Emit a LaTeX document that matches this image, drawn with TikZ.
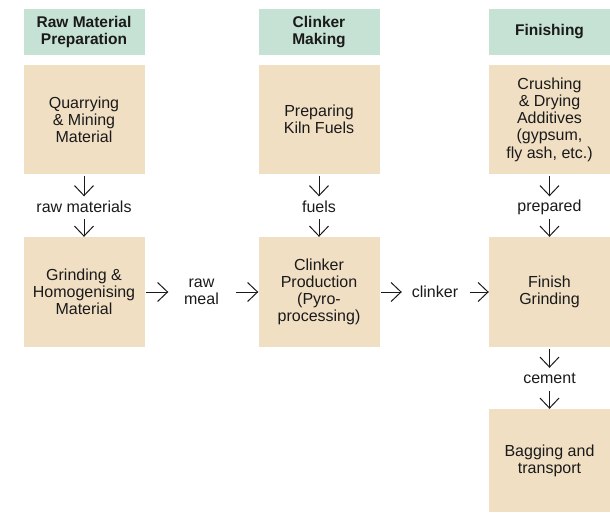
\documentclass[tikz,border=0pt]{standalone}
\usepackage{fontspec}
\setmainfont{Liberation Sans}
\usepackage{xcolor}
\definecolor{hdrGreen}{HTML}{C6E2D4}
\definecolor{boxSand}{HTML}{F1DFC4}
\definecolor{inkDark}{HTML}{1A1A1A}
\usepackage{tikz}
\usetikzlibrary{arrows.meta}
\tikzset{
    hdr/.style={fill=hdrGreen, text=inkDark, minimum width=121pt, minimum height=46pt, inner sep=0pt, align=center, font=\fontsize{15.5}{17.5}\selectfont\bfseries},
    stage/.style={fill=boxSand, text=inkDark, minimum width=121pt, inner sep=0pt, align=center, font=\fontsize{16}{17.2}\selectfont},
    flowlbl/.style={text=inkDark, inner sep=0pt, align=center, minimum width=66pt, minimum height=21pt, font=\fontsize{16}{17.2}\selectfont},
    flow/.style={draw=inkDark, line width=1pt, shorten <=1.5pt, -{Straight Barb[length=10pt,width=19pt]}}
}

\begin{document}
\begin{tikzpicture}[x=1pt, y=-1pt]
  % page
  \useasboundingbox (0,0) rectangle (610,512);

  % headers
  \node[hdr] (hRaw)    at (84,32)    {Raw Material\\Preparation};
  \node[hdr] (hClink)  at (319,32)   {Clinker\\Making};
  \node[hdr] (hFinish) at (549.5,32) {Finishing};

  % first row
  \node[stage, minimum height=109pt] (quarry)   at (84,119.5)    {Quarrying\\\& Mining\\Material};
  \node[stage, minimum height=109pt] (fuels)    at (319,119.5)   {Preparing\\Kiln Fuels};
  \node[stage, minimum height=109pt] (additive) at (549.5,119.5) {Crushing\\\& Drying\\Additives\\(gypsum,\\fly ash, etc.)};

  % second row
  \node[stage, minimum height=110pt] (grind)   at (84,292)    {Grinding \&\\Homogenising\\Material};
  \node[stage, minimum height=110pt] (kiln)    at (319,292)   {Clinker\\Production\\(Pyro-\\processing)};
  \node[stage, minimum height=110pt] (finGrind) at (549.5,292) {Finish\\Grinding};

  % last stage
  \node[stage, minimum height=103pt] (bagging) at (549.5,460.5) {Bagging and\\transport};

  % flow labels
  \node[flowlbl] (lRawMat)  at (84,207)    {raw materials};
  \node[flowlbl] (lFuels)   at (319,207)   {fuels};
  \node[flowlbl] (lPrep)    at (549.5,207) {prepared};
  \node[flowlbl] (lRawMeal) at (201.5,292) {raw\\meal};
  \node[flowlbl] (lClinker) at (435,292)   {clinker};
  \node[flowlbl] (lCement)  at (549.5,378.5) {cement};

  % vertical arrows
  \draw[flow] (quarry.south)   -- (lRawMat.north);
  \draw[flow] (lRawMat.south)  -- (grind.north);
  \draw[flow] (fuels.south)    -- (lFuels.north);
  \draw[flow] (lFuels.south)   -- (kiln.north);
  \draw[flow] (additive.south) -- (lPrep.north);
  \draw[flow] (lPrep.south)    -- (finGrind.north);
  \draw[flow] (finGrind.south) -- (lCement.north);
  \draw[flow] (lCement.south)  -- (bagging.north);

  % horizontal arrows
  \draw[flow] (grind.east)    -- (lRawMeal.west);
  \draw[flow] (lRawMeal.east) -- (kiln.west);
  \draw[flow] (kiln.east)     -- (lClinker.west);
  \draw[flow] (lClinker.east) -- (finGrind.west);
\end{tikzpicture}
\end{document}
